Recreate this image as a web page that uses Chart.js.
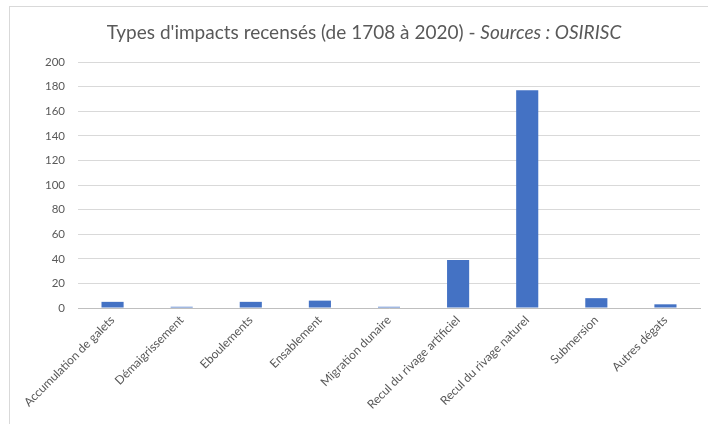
<!DOCTYPE html>
<html>
<head>
<meta charset="utf-8">
<script src="https://cdn.jsdelivr.net/npm/chart.js@4"></script>
<style>
  body { margin: 0; background: #fff; }
</style>
</head>
<body>
<canvas id="myChart" width="708" height="424"></canvas>
<script>
const categories = ['Accumulation de galets', 'Démaigrissement', 'Eboulements', 'Ensablement',
    'Migration dunaire', 'Recul du rivage artificiel', 'Recul du rivage naturel', 'Submersion', 'Autres dégats'];
const impacts = [5, 1, 5, 6, 1, 39, 177, 8, 3];
const yTicks = [0, 20, 40, 60, 80, 100, 120, 140, 160, 180, 200];

const titleNormal = "Types d'impacts recensés (de 1708 à 2020) - ";
const titleItalic = 'Sources : OSIRISC';

Chart.defaults.font.family = 'Lato';
Chart.defaults.color = '#595959';

// white background, frame and two-style title
const framePlugin = {
    id: 'frame',
    beforeDraw(chart) {
        const c = chart.ctx;
        c.save();
        c.fillStyle = '#fff';
        c.fillRect(0, 0, chart.width, chart.height);
        c.strokeStyle = '#d9d9d9';
        c.lineWidth = 1;
        c.strokeRect(9.5, 6.5, 720, 440);
        c.restore();
    },
    afterDraw(chart) {
        const c = chart.ctx;
        c.save();
        c.fillStyle = '#595959';
        c.textBaseline = 'middle';
        c.font = '19px Lato';
        const w1 = c.measureText(titleNormal).width;
        c.font = 'italic 19px Lato';
        const w2 = c.measureText(titleItalic).width;
        let x = 364 - (w1 + w2) / 2;
        c.font = '19px Lato';
        c.fillText(titleNormal, x, 33);
        c.font = 'italic 19px Lato';
        c.fillText(titleItalic, x + w1, 33);
        c.restore();
    }
};

new Chart(document.getElementById('myChart').getContext('2d'), {
    type: 'bar',
    data: {
        labels: categories,
        datasets: [{
            data: impacts,
            backgroundColor: '#4472C4',
            barPercentage: 0.32,
            categoryPercentage: 1
        }]
    },
    options: {
        responsive: false,
        animation: false,
        layout: { padding: { top: 62, right: 8, left: 0, bottom: 0 } },
        plugins: {
            legend: { display: false },
            title: { display: false },
            tooltip: { enabled: false }
        },
        scales: {
            x: {
                grid: { display: false, drawTicks: false },
                border: { color: '#bfbfbf' },
                ticks: { minRotation: 45, maxRotation: 45, padding: 5, font: { size: 12 } },
                afterFit(scale) { scale.height = 116; }
            },
            y: {
                min: 0,
                max: 200,
                afterBuildTicks(scale) { scale.ticks = yTicks.map(v => ({ value: v })); },
                grid: { color: '#d9d9d9', drawTicks: false },
                border: { display: false },
                ticks: { padding: 13, font: { size: 11.5 } },
                afterFit(scale) { scale.width = 78; }
            }
        }
    },
    plugins: [framePlugin]
});
</script>
</body>
</html>
